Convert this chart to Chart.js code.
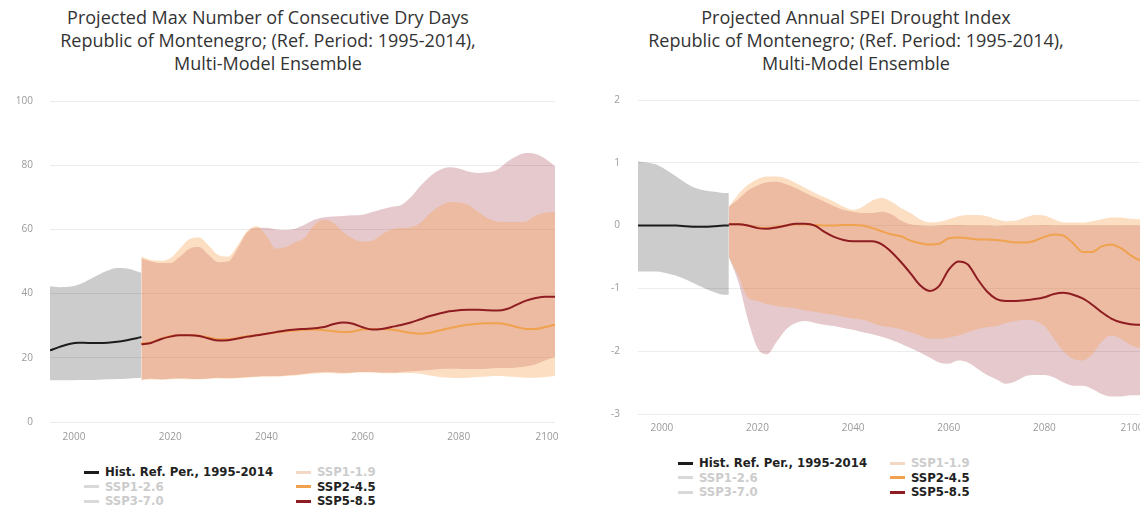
<!DOCTYPE html>
<html><head><meta charset="utf-8">
<script src="https://cdn.jsdelivr.net/npm/chart.js@4.4.1/dist/chart.umd.min.js"></script>
<style>
html,body{margin:0;padding:0;background:#fff;}
body{width:1140px;height:506px;overflow:hidden;position:relative;font-family:"Open Sans",sans-serif;}
.title{position:absolute;top:6px;text-align:center;font-size:18px;line-height:23px;color:#333;white-space:nowrap;}
.cw{position:absolute;}
.legend{position:absolute;display:grid;grid-template-columns:212px auto;font-family:"Liberation Sans Narrow","DejaVu Sans Condensed",sans-serif;font-weight:bold;font-size:13px;line-height:14.5px;color:#222;}
.li{display:flex;align-items:center;white-space:nowrap;height:14.5px;}
.sw{display:inline-block;width:15px;height:3px;margin-right:6px;}
</style></head>
<body>
<div class="title" style="left:0;width:536px;">Projected Max Number of Consecutive Dry Days<br>Republic of Montenegro; (Ref. Period: 1995-2014),<br>Multi-Model Ensemble</div>
<div class="title" style="left:556px;width:600px;">Projected Annual SPEI Drought Index<br>Republic of Montenegro; (Ref. Period: 1995-2014),<br>Multi-Model Ensemble</div>
<div class="cw" style="left:0;top:85px;"><canvas id="c1" width="570" height="365"></canvas></div>
<div class="cw" style="left:570px;top:85px;"><canvas id="c2" width="570" height="357"></canvas></div>
<div class="legend" id="lg1" style="left:84px;top:465px;"></div>
<div class="legend" id="lg2" style="left:678px;top:456px;"></div>
<script>
// ---------- shared axes ----------
const xTicks = [2000, 2020, 2040, 2060, 2080, 2100];
const histYears = [1995, 1997, 1999, 2001, 2003, 2005, 2007, 2009, 2011, 2013, 2014];
const projYears = [2014, 2016, 2018, 2020, 2022, 2024, 2026, 2028, 2030, 2032, 2034, 2036, 2038, 2040, 2042, 2044, 2046, 2048, 2050, 2052, 2054, 2056, 2058, 2060, 2062, 2064, 2066, 2068, 2070, 2072, 2074, 2076, 2078, 2080, 2082, 2084, 2086, 2088, 2090, 2092, 2094, 2096, 2098, 2100];
const legendOrder = ['Hist. Ref. Per., 1995-2014', 'SSP1-1.9', 'SSP1-2.6', 'SSP2-4.5', 'SSP3-7.0', 'SSP5-8.5'];

// ---------- Chart 1: Max number of consecutive dry days ----------
const cddTicks = [0, 20, 40, 60, 80, 100];
const cddHistMean = [22.3, 23.4, 24.3, 24.7, 24.6, 24.6, 24.7, 25.0, 25.5, 26.1, 26.5];
const cddHistLow = [13.0, 13.0, 13.0, 13.1, 13.1, 13.2, 13.3, 13.4, 13.5, 13.7, 13.8];
const cddHistHigh = [42.3, 42.0, 42.1, 42.8, 44.2, 45.8, 47.2, 48.0, 47.8, 47.0, 46.5];
const cdd245Mean = [24.5, 24.8, 25.9, 26.7, 27.1, 27.1, 26.9, 26.3, 25.8, 25.8, 26.2, 26.7, 27.1, 27.5, 27.9, 28.3, 28.5, 28.7, 28.8, 28.6, 28.3, 28, 28.2, 28.8, 29, 29, 28.8, 28.3, 27.8, 27.5, 27.8, 28.5, 29.2, 29.8, 30.3, 30.6, 30.8, 30.8, 30.4, 29.6, 29, 29, 29.6, 30.3];
const cdd245Low = [13.0, 13.3, 13.2, 13.3, 13.4, 13.3, 13.3, 13.4, 13.6, 13.5, 13.6, 13.8, 14, 14.1, 14.1, 14.3, 14.5, 14.8, 15.1, 15.3, 15.2, 15.1, 15.3, 15.4, 15.4, 15.2, 15.2, 15.3, 15.3, 15, 14.5, 14, 13.8, 13.7, 13.8, 14, 14.2, 14.3, 14.2, 14, 13.8, 13.8, 14, 14.3];
const cdd245High = [51.5, 50.5, 50.2, 51, 54, 57, 57.5, 55, 52, 51.5, 55, 59.5, 61, 58, 54, 54.5, 56, 57.5, 61.5, 63, 62, 59, 57.2, 56.2, 56.5, 58.5, 60, 60.4, 60.7, 62, 65, 67.2, 68.5, 68.4, 67.6, 65.5, 63.5, 62.5, 62.3, 62.3, 62.5, 64.3, 65.2, 65.4];
const cdd585Mean = [24.2, 24.6, 25.8, 26.6, 27, 27, 26.8, 26, 25.4, 25.5, 26, 26.6, 27, 27.5, 28, 28.5, 28.8, 29, 29.2, 29.6, 30.5, 31, 30.6, 29.5, 28.8, 29, 29.6, 30.2, 31, 32, 33, 33.8, 34.5, 34.8, 35, 35, 34.8, 34.7, 35.2, 36.5, 37.8, 38.6, 39, 39];
const cdd585Low = [13.2, 13.5, 13.3, 13.5, 13.6, 13.5, 13.4, 13.6, 13.8, 13.7, 13.8, 14, 14.2, 14.3, 14.3, 14.5, 14.7, 15, 15.4, 15.6, 15.5, 15.3, 15.5, 15.6, 15.6, 15.4, 15.4, 15.6, 15.8, 16, 16.2, 16.5, 16.6, 16.6, 16.5, 16.5, 16.6, 16.8, 16.8, 17, 17.3, 18, 19.2, 20.3];
const cdd585High = [51, 50, 49.5, 49.5, 51.5, 54, 54.5, 52, 49.8, 50, 54, 59, 60.5, 60.5, 60, 59.8, 60.2, 61.5, 63, 63.8, 64, 64.2, 64.4, 64.6, 65.4, 66.3, 67, 67.6, 70, 73.5, 76.5, 78.5, 79.4, 79, 78, 77.6, 77.8, 78.6, 81, 82.8, 83.8, 83.5, 82, 79.7];

// ---------- Chart 2: Annual SPEI drought index ----------
const speiTicks = [-3, -2, -1, 0, 1, 2];
const speiHistMean = [0, 0, 0, 0, 0, -0.01, -0.02, -0.02, -0.01, 0, 0];
const speiHistLow = [-0.73, -0.73, -0.73, -0.76, -0.8, -0.86, -0.93, -1.0, -1.06, -1.1, -1.1];
const speiHistHigh = [1.02, 1.0, 0.97, 0.88, 0.78, 0.68, 0.6, 0.56, 0.54, 0.52, 0.52];
const spei245Mean = [0.02, 0.02, 0, -0.03, -0.04, -0.02, 0, 0.02, 0.02, 0.01, 0, 0, 0.01, 0.01, 0, -0.04, -0.09, -0.14, -0.17, -0.24, -0.28, -0.3, -0.29, -0.2, -0.19, -0.2, -0.22, -0.22, -0.23, -0.25, -0.27, -0.27, -0.24, -0.18, -0.14, -0.16, -0.28, -0.42, -0.42, -0.33, -0.3, -0.36, -0.47, -0.56];
const spei245Low = [-0.5, -0.8, -1.15, -1.2, -1.25, -1.28, -1.3, -1.32, -1.35, -1.37, -1.4, -1.42, -1.45, -1.48, -1.5, -1.55, -1.6, -1.62, -1.65, -1.7, -1.75, -1.8, -1.8, -1.78, -1.75, -1.7, -1.65, -1.62, -1.6, -1.55, -1.52, -1.5, -1.52, -1.6, -1.8, -2.0, -2.12, -2.15, -2.05, -1.85, -1.75, -1.8, -1.9, -1.95];
const spei245High = [0.3, 0.5, 0.65, 0.74, 0.78, 0.78, 0.75, 0.68, 0.6, 0.52, 0.45, 0.38, 0.3, 0.25, 0.3, 0.4, 0.44, 0.38, 0.28, 0.2, 0.1, 0.05, 0.06, 0.1, 0.15, 0.17, 0.17, 0.15, 0.1, 0.07, 0.08, 0.13, 0.17, 0.16, 0.1, 0.05, 0.05, 0.05, 0.07, 0.1, 0.13, 0.13, 0.11, 0.1];
const spei585Mean = [0.02, 0.02, 0, -0.04, -0.05, -0.03, 0, 0.03, 0.03, 0, -0.1, -0.18, -0.23, -0.25, -0.25, -0.25, -0.3, -0.42, -0.58, -0.76, -0.95, -1.04, -0.96, -0.7, -0.57, -0.62, -0.85, -1.05, -1.17, -1.2, -1.2, -1.19, -1.17, -1.14, -1.09, -1.07, -1.1, -1.16, -1.26, -1.38, -1.48, -1.54, -1.57, -1.58];
const spei585Low = [-0.5, -0.9, -1.5, -1.95, -2.05, -1.85, -1.65, -1.55, -1.52, -1.55, -1.58, -1.6, -1.63, -1.66, -1.7, -1.73, -1.77, -1.82, -1.88, -1.95, -2.02, -2.1, -2.18, -2.2, -2.15, -2.18, -2.28, -2.38, -2.45, -2.52, -2.48, -2.4, -2.38, -2.38, -2.42, -2.5, -2.55, -2.55, -2.6, -2.68, -2.72, -2.72, -2.7, -2.7];
const spei585High = [0.3, 0.42, 0.56, 0.64, 0.69, 0.7, 0.66, 0.6, 0.52, 0.45, 0.38, 0.31, 0.25, 0.22, 0.2, 0.2, 0.22, 0.18, 0.08, 0.02, 0, -0.01, 0, 0.01, 0.01, 0, 0, 0, -0.01, 0, 0, 0, 0, 0.01, 0, 0, 0, 0, 0, 0, 0, 0, 0, 0];

// ---------- styles ----------
const COL = {
  hist: '#1c1c1c', histBand: 'rgba(0,0,0,0.2)',
  s245: '#f0a24e', s245Band: 'rgba(245,160,80,0.35)',
  s585: '#8e1c22', s585Band: 'rgba(150,30,40,0.24)',
  s119: '#f3d8c6', s126: '#d9d9d9', s370: '#d9d9d9'
};

function pts(xs, ys) { return xs.map((x, i) => ({ x: x, y: ys[i] })); }

// keeps the last x label inside the plot (justified like the original chart)
const justifyLastLabel = {
  id: 'justifyLastLabel',
  beforeDraw(chart) {
    const items = chart.scales.x.getLabelItems();
    const last = items[items.length - 1];
    if (last && !last._shifted) { last.options.translation[0] -= 8; last._shifted = true; }
  }
};

function build(canvasId, legendId, c) {
  const band = { borderWidth: 0, pointRadius: 0, order: 10 };
  const datasets = [
    { label: 'Hist. Ref. Per., 1995-2014', data: pts(histYears, c.histMean), borderColor: COL.hist, borderWidth: 2, order: 0 },
    Object.assign({ label: 'hist-low', data: pts(histYears, c.histLow), fill: false }, band),
    Object.assign({ label: 'hist-high', data: pts(histYears, c.histHigh), fill: '-1', backgroundColor: COL.histBand }, band),
    Object.assign({ label: '245-low', data: pts(projYears, c.low245), fill: false }, band),
    Object.assign({ label: '245-high', data: pts(projYears, c.high245), fill: '-1', backgroundColor: COL.s245Band }, band),
    Object.assign({ label: '585-low', data: pts(projYears, c.low585), fill: false }, band),
    Object.assign({ label: '585-high', data: pts(projYears, c.high585), fill: '-1', backgroundColor: COL.s585Band }, band),
    { label: 'SSP2-4.5', data: pts(projYears, c.mean245), borderColor: COL.s245, borderWidth: 2, order: 2 },
    { label: 'SSP5-8.5', data: pts(projYears, c.mean585), borderColor: COL.s585, borderWidth: 2, order: 1 },
    { label: 'SSP1-1.9', data: [], borderColor: COL.s119, hidden: true },
    { label: 'SSP1-2.6', data: [], borderColor: COL.s126, hidden: true },
    { label: 'SSP3-7.0', data: [], borderColor: COL.s370, hidden: true }
  ];
  const tickFont = { family: 'Open Sans', size: 10 };
  const chart = new Chart(document.getElementById(canvasId), {
    type: 'line',
    data: { datasets: datasets },
    plugins: [justifyLastLabel],
    options: {
      responsive: false, animation: false, devicePixelRatio: 1,
      layout: { autoPadding: false, padding: { top: c.padTop, right: c.padRight, left: 0, bottom: 0 } },
      plugins: { legend: { display: false }, tooltip: { enabled: false }, title: { display: false } },
      elements: { point: { radius: 0 }, line: { cubicInterpolationMode: 'monotone' } },
      scales: {
        x: {
          type: 'linear', min: 1995, max: 2100,
          grid: { display: false, drawTicks: false }, border: { display: false },
          ticks: { color: '#9a9a9a', font: tickFont, padding: c.xPad, maxRotation: 0, callback: v => String(v) },
          afterBuildTicks: s => { s.ticks = xTicks.map(v => ({ value: v })); },
          afterFit: s => { s.height = 28; s.paddingLeft = 0; s.paddingRight = 0; }
        },
        y: {
          type: 'linear', min: c.yTicks[0], max: c.yTicks[c.yTicks.length - 1],
          grid: { color: '#ececec', drawTicks: false, lineWidth: 1 }, border: { display: false },
          ticks: { color: '#9a9a9a', font: tickFont, padding: c.yPad, callback: v => String(v) },
          afterBuildTicks: s => { s.ticks = c.yTicks.map(v => ({ value: v })); },
          afterFit: s => { s.width = c.yW; s.paddingTop = 0; s.paddingBottom = 0; }
        }
      }
    }
  });
  // HTML legend built from the chart's datasets
  const lg = document.getElementById(legendId);
  legendOrder.forEach(name => {
    const idx = chart.data.datasets.findIndex(d => d.label === name);
    const ds = chart.data.datasets[idx];
    const vis = chart.isDatasetVisible(idx);
    const item = document.createElement('div');
    item.className = 'li';
    const sw = document.createElement('span');
    sw.className = 'sw';
    sw.style.background = ds.borderColor;
    const tx = document.createElement('span');
    tx.textContent = name;
    tx.style.color = vis ? '#222' : '#cccccc';
    item.appendChild(sw); item.appendChild(tx);
    lg.appendChild(item);
  });
  return chart;
}

build('c1', 'lg1', {
  histMean: cddHistMean, histLow: cddHistLow, histHigh: cddHistHigh,
  mean245: cdd245Mean, low245: cdd245Low, high245: cdd245High,
  mean585: cdd585Mean, low585: cdd585Low, high585: cdd585High,
  yTicks: cddTicks, padTop: 16, padRight: 15, yW: 50, yPad: 17, xPad: 9
});
build('c2', 'lg2', {
  histMean: speiHistMean, histLow: speiHistLow, histHigh: speiHistHigh,
  mean245: spei245Mean, low245: spei245Low, high245: spei245High,
  mean585: spei585Mean, low585: spei585Low, high585: spei585High,
  yTicks: speiTicks, padTop: 15, padRight: 0, yW: 68, yPad: 18, xPad: 8
});
</script>
</body></html>
